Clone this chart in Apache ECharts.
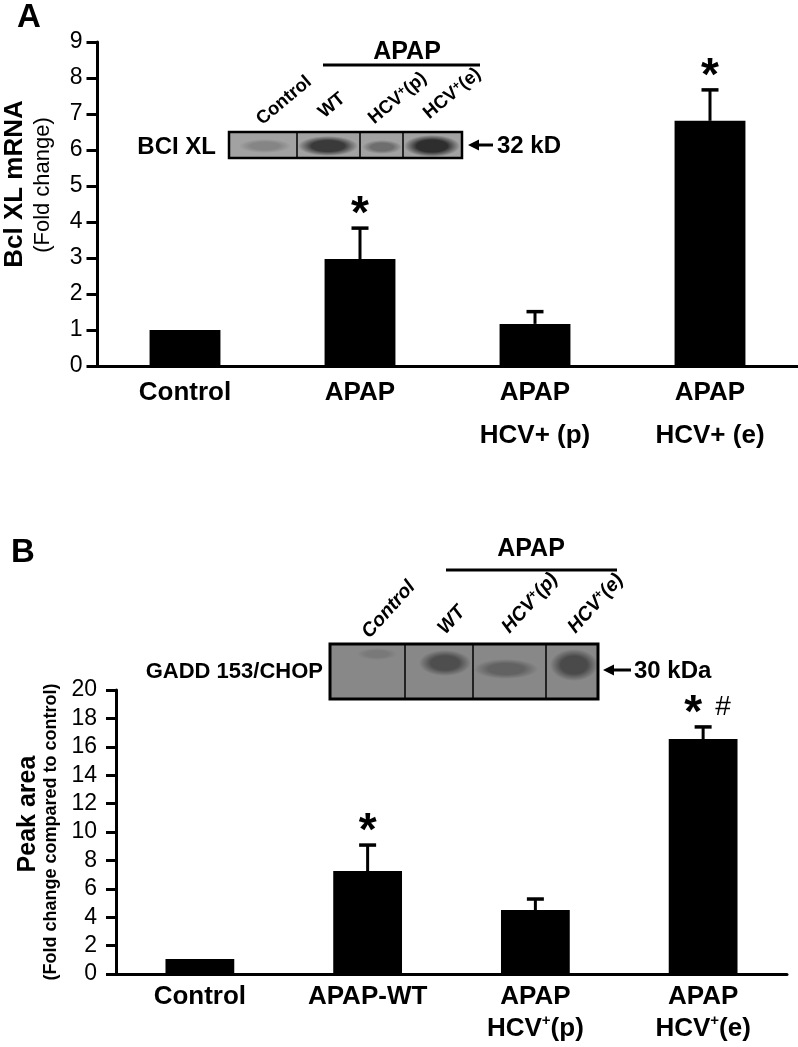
<!DOCTYPE html>
<html><head><meta charset="utf-8">
<script src="https://cdn.jsdelivr.net/npm/echarts@6/dist/echarts.min.js"></script>
<style>html,body{margin:0;padding:0;background:#fff}#c{width:798px;height:1047px}</style>
</head><body><div id="c"></div>
<script>
// ---------- Panel A data ----------
const catsA = ['Control', 'APAP', 'APAP\nHCV+ (p)', 'APAP\nHCV+ (e)'];
const valsA = [1.0, 2.97, 1.17, 6.81];
const errA  = [0, 0.86, 0.34, 0.86];
const sigA  = ['', '*', '', '*'];
const yMinA = 0, yMaxA = 9, yStepA = 1;
const blotLanesA = ['Control', 'WT', 'HCV{s|+}(p)', 'HCV{s|+}(e)'];

// ---------- Panel B data ----------
const catsB = ['Control', 'APAP-WT', 'APAP\nHCV+(p)', 'APAP\nHCV+(e)'];
const valsB = [1.05, 7.25, 4.5, 16.55];
const errB  = [0, 1.83, 0.78, 0.85];
const sigB  = ['', '*', '', '*#'];
const yMinB = 0, yMaxB = 20, yStepB = 2;
const blotLanesB = ['Control', 'WT', 'HCV{s|+}(p)', 'HCV{s|+}(e)'];

const FF = '"Liberation Sans", Arial, Helvetica, sans-serif';
const FN = '"Liberation Sans Narrow", "Arial Narrow", "Liberation Sans", Arial, sans-serif';

function errRender(sigs) {
  return function (params, api) {
    const i = api.value(0), v = api.value(1), e = api.value(2);
    const p0 = api.coord([i, v]), p1 = api.coord([i, v + e]);
    const ch = [];
    if (e > 0) {
      ch.push({type: 'line', shape: {x1: p0[0], y1: p0[1], x2: p1[0], y2: p1[1]}, style: {stroke: '#000', lineWidth: 3}});
      ch.push({type: 'line', shape: {x1: p1[0] - 8.5, y1: p1[1], x2: p1[0] + 8.5, y2: p1[1]}, style: {stroke: '#000', lineWidth: 3.5}});
    }
    const s = sigs[i] || '';
    for (let k = 0; k < s.length; k++) {
      const c = s[k];
      const x = p1[0] + (s.length > 1 ? -10 + 30 * k : 0);
      if (c === '*') {
        ch.push({type: 'text', x: x, y: p1[1] - 13, style: {text: '*', fontSize: 46, fontWeight: 'bold', fontFamily: FF, fill: '#000', align: 'center', verticalAlign: 'middle'}});
      } else {
        ch.push({type: 'text', x: x, y: p1[1] - 20, style: {text: c, fontSize: 28, fontFamily: FF, fill: '#000', align: 'center', verticalAlign: 'middle'}});
      }
    }
    return {type: 'group', children: ch};
  };
}

function band(cx, cy, rx, ry, col, bg) {
  return {type: 'circle', x: cx, y: cy, scaleY: ry / rx, shape: {cx: 0, cy: 0, r: rx},
    style: {fill: {type: 'radial', x: 0.5, y: 0.5, r: 0.5, colorStops: [
      {offset: 0, color: col}, {offset: 0.55, color: col}, {offset: 1, color: bg}]}}, silent: true};
}
function blot(x0, y0, x1, y1, divs, bg, bands, bw) {
  const els = [{type: 'rect', shape: {x: x0, y: y0, width: x1 - x0, height: y1 - y0}, style: {fill: bg}}];
  bands.forEach(b => els.push(band(b[0], b[1], b[2], b[3], b[4], bg)));
  divs.forEach(d => els.push({type: 'line', shape: {x1: d, y1: y0, x2: d, y2: y1}, style: {stroke: '#000', lineWidth: 1.5}}));
  els.push({type: 'rect', shape: {x: x0, y: y0, width: x1 - x0, height: y1 - y0}, style: {fill: 'none', stroke: '#000', lineWidth: bw}});
  return els;
}
function arrow(xh, xt, y) {
  return [
    {type: 'line', shape: {x1: xh + 6, y1: y, x2: xt, y2: y}, style: {stroke: '#000', lineWidth: 3}},
    {type: 'polygon', shape: {points: [[xh, y], [xh + 11, y - 5.5], [xh + 11, y + 5.5]]}, style: {fill: '#000'}}
  ];
}
function txt(x, y, text, o) {
  return Object.assign({type: 'text', x: x, y: y, style: Object.assign({text: text, fill: '#000', fontFamily: FF}, o.style)}, o.el || {});
}

const g = [];
// Panel letters
g.push(txt(17, 18, 'A', {style: {fontSize: 33, fontWeight: 'bold', align: 'left', verticalAlign: 'middle'}}));
g.push(txt(11, 553, 'B', {style: {fontSize: 33, fontWeight: 'bold', align: 'left', verticalAlign: 'middle'}}));
// Y axis titles
g.push(txt(15, 184, 'Bcl XL mRNA', {style: {fontSize: 26, fontWeight: 'bold', align: 'center', verticalAlign: 'middle'}, el: {rotation: Math.PI / 2}}));
g.push(txt(43, 185, '(Fold change)', {style: {fontSize: 22, align: 'center', verticalAlign: 'middle'}, el: {rotation: Math.PI / 2}}));
g.push(txt(28, 814, 'Peak area', {style: {fontSize: 25, fontWeight: 'bold', align: 'center', verticalAlign: 'middle'}, el: {rotation: Math.PI / 2}}));
g.push(txt(51, 832, '(Fold change compared to control)', {style: {fontSize: 18, fontWeight: 'bold', align: 'center', verticalAlign: 'middle'}, el: {rotation: Math.PI / 2}}));

// Blot A
g.push(...blot(229, 132, 462, 158, [297, 360, 403], '#a2a2a2', [
  [265, 146, 26, 7, '#858585'], [328, 146, 30, 10, '#3a3a3a'], [382, 147, 20, 7, '#6e6e6e'], [432, 146, 28, 11, '#2e2e2e']], 2.5));
g.push(txt(216, 147, 'BCI XL', {style: {fontSize: 24, fontWeight: 'bold', align: 'right', verticalAlign: 'middle'}}));
g.push(...arrow(468, 493, 145));
g.push(txt(497, 146, '32 kD', {style: {fontSize: 24, fontWeight: 'bold', align: 'left', verticalAlign: 'middle'}}));
g.push(txt(407, 52, 'APAP', {style: {fontSize: 25, fontWeight: 'bold', align: 'center', verticalAlign: 'middle'}}));
g.push({type: 'line', shape: {x1: 323, y1: 65, x2: 480, y2: 65}, style: {stroke: '#000', lineWidth: 3}});
const ancA = [[265, 129], [327, 122], [377, 128], [432, 123]];
blotLanesA.forEach((t, i) => g.push(txt(ancA[i][0], ancA[i][1], t, {
  style: {fontSize: 18.5, fontWeight: 'bold', align: 'left', verticalAlign: 'bottom',
    rich: {s: {fontSize: 12, fontWeight: 'bold', fontFamily: FF, verticalAlign: 'top', lineHeight: 10}}},
  el: {rotation: 40 * Math.PI / 180}})));

// Blot B
g.push(...blot(330, 644, 598, 699, [405, 473, 546], '#888888', [
  [377, 654, 20, 6, '#797979'], [445, 663, 26, 13, '#4e4e4e'], [506, 669, 32, 10, '#626262'], [574, 665, 24, 16, '#4a4a4a']], 3));
g.push(txt(323, 672, 'GADD 153/CHOP', {style: {fontSize: 22, fontWeight: 'bold', fontFamily: FN, align: 'right', verticalAlign: 'middle'}}));
g.push(...arrow(603, 631, 670));
g.push(txt(634, 671, '30 kDa', {style: {fontSize: 24, fontWeight: 'bold', fontFamily: FN, align: 'left', verticalAlign: 'middle'}}));
g.push(txt(531, 549, 'APAP', {style: {fontSize: 25, fontWeight: 'bold', align: 'center', verticalAlign: 'middle'}}));
g.push({type: 'line', shape: {x1: 446, y1: 570, x2: 617, y2: 570}, style: {stroke: '#000', lineWidth: 3}});
const ancB = [[373, 642], [449, 638], [513, 637], [579, 637]];
blotLanesB.forEach((t, i) => g.push(txt(ancB[i][0], ancB[i][1], t, {
  style: {fontSize: 19.5, fontWeight: 'bold', fontStyle: 'italic', fontFamily: FN, align: 'left', verticalAlign: 'bottom',
    rich: {s: {fontSize: 12, fontWeight: 'bold', fontStyle: 'italic', fontFamily: FN, verticalAlign: 'top', lineHeight: 10}}},
  el: {rotation: 48 * Math.PI / 180}})));

const axisLineStyle = {show: true, lineStyle: {color: '#000', width: 3}};
const option = {
  animation: false,
  backgroundColor: '#fff',
  grid: [
    {left: 97.5, top: 42, width: 700, height: 324},
    {left: 116, top: 690, width: 671, height: 284}
  ],
  xAxis: [
    {type: 'category', gridIndex: 0, data: catsA, axisLine: axisLineStyle, axisTick: {show: false},
      axisLabel: {color: '#000', fontFamily: FF, fontSize: 26, fontWeight: 'bold', lineHeight: 43, margin: 5, interval: 0},
      splitLine: {show: false}},
    {type: 'category', gridIndex: 1, data: catsB, axisLine: axisLineStyle, axisTick: {show: false},
      axisLabel: {color: '#000', fontFamily: FF, fontSize: 26, fontWeight: 'bold', lineHeight: 32, margin: 7, interval: 0,
        formatter: v => v.replace('+', '{s|+}'),
        rich: {s: {fontSize: 15, fontWeight: 'bold', fontFamily: FF, color: '#000', verticalAlign: 'top', lineHeight: 16}}},
      splitLine: {show: false}}
  ],
  yAxis: [
    {type: 'value', gridIndex: 0, min: yMinA, max: yMaxA, interval: yStepA, axisLine: axisLineStyle,
      axisTick: {show: true, length: 11, lineStyle: {color: '#000', width: 3}},
      axisLabel: {color: '#000', fontFamily: FF, fontSize: 23, margin: 15}, splitLine: {show: false}},
    {type: 'value', gridIndex: 1, min: yMinB, max: yMaxB, interval: yStepB, axisLine: axisLineStyle,
      axisTick: {show: true, length: 10, lineStyle: {color: '#000', width: 3}},
      axisLabel: {color: '#000', fontFamily: FF, fontSize: 23, margin: 19}, splitLine: {show: false}}
  ],
  series: [
    {type: 'bar', xAxisIndex: 0, yAxisIndex: 0, data: valsA, barWidth: '40.5%', itemStyle: {color: '#000'}, silent: true},
    {type: 'custom', xAxisIndex: 0, yAxisIndex: 0, data: valsA.map((v, i) => [i, v, errA[i]]), encode: {x: 0, y: 1},
      renderItem: errRender(sigA), clip: false, z: 5, silent: true},
    {type: 'bar', xAxisIndex: 1, yAxisIndex: 1, data: valsB, barWidth: '41%', itemStyle: {color: '#000'}, silent: true},
    {type: 'custom', xAxisIndex: 1, yAxisIndex: 1, data: valsB.map((v, i) => [i, v, errB[i]]), encode: {x: 0, y: 1},
      renderItem: errRender(sigB), clip: false, z: 5, silent: true}
  ],
  graphic: {elements: g}
};
const chart = echarts.init(document.getElementById('c'), null, {renderer: 'canvas'});
chart.setOption(option);
</script></body></html>
